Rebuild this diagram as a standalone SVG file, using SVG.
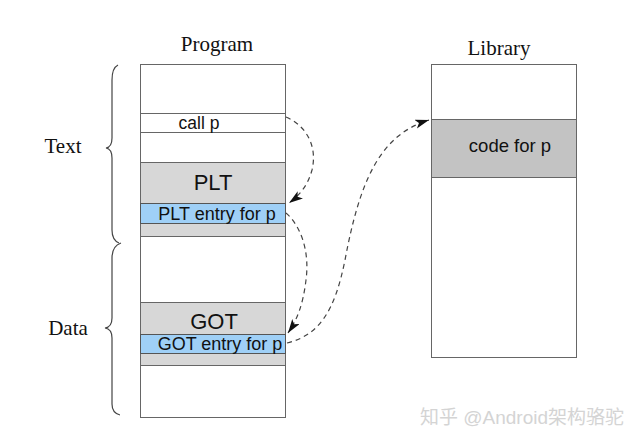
<svg xmlns="http://www.w3.org/2000/svg" width="640" height="442" viewBox="0 0 640 442">
<style>
.box{fill:#ffffff;stroke:#666;stroke-width:1}
.gray{fill:#d7d7d7;stroke:#666;stroke-width:1}
.blue{fill:#9fd0f7;stroke:#555;stroke-width:1}
.code{fill:#c3c3c3;stroke:#666;stroke-width:1}
.serif{font-family:"Liberation Serif","Times New Roman",serif;font-size:21px;fill:#111}
.sans{font-family:"Liberation Sans",Arial,sans-serif;fill:#111}
.brace{fill:none;stroke:#444;stroke-width:1.2}
.conn{fill:none;stroke:#444;stroke-width:1.2;stroke-dasharray:5,4;marker-end:url(#ah)}
</style>
<defs>
<marker id="ah" markerUnits="userSpaceOnUse" markerWidth="16" markerHeight="10" refX="14" refY="4.5" orient="auto">
<path d="M0,0 L14,4.5 L0,9 L3.5,4.5 z" fill="#111"/>
</marker>
</defs>
<rect width="640" height="442" fill="#fff"/>
<text class="serif" x="217" y="51" text-anchor="middle">Program</text>
<text class="serif" x="499" y="55" text-anchor="middle">Library</text>
<text class="serif" x="63" y="153" text-anchor="middle">Text</text>
<text class="serif" x="68" y="335" text-anchor="middle">Data</text>
<path class="brace" d="M118,65 Q112,68 112,80 L112,138 Q112,147 106,148 Q112,149 112,158 L112,230 Q112,240 119,243"/>
<path class="brace" d="M121,243 Q112,246 112,258 L112,318 Q112,327 105,328 Q112,329 112,338 L112,404 Q112,413 120,415"/>
<g id="program">
<rect class="box" x="140.5" y="64.5" width="145" height="353"/>
</g>
<g id="callp">
<rect class="box" x="140.5" y="113.5" width="145" height="19"/>
<text class="sans" x="199" y="129" font-size="17.5" text-anchor="middle">call p</text>
</g>
<g id="plt">
<rect class="gray" x="140.5" y="162.5" width="145" height="74"/>
<text class="sans" x="213" y="190" font-size="22" text-anchor="middle">PLT</text>
</g>
<g id="pltentry">
<rect class="blue" x="140.5" y="203.5" width="145" height="20"/>
<text class="sans" x="217" y="219.5" font-size="18" text-anchor="middle">PLT entry for p</text>
</g>
<g id="got">
<rect class="gray" x="140.5" y="302.5" width="145" height="63"/>
<text class="sans" x="214" y="329" font-size="22" text-anchor="middle">GOT</text>
</g>
<g id="gotentry">
<rect class="blue" x="140.5" y="334.5" width="145" height="19"/>
<text class="sans" x="220" y="349.5" font-size="18" text-anchor="middle">GOT entry for p</text>
</g>
<g id="library">
<rect class="box" x="431.5" y="64.5" width="145" height="293"/>
</g>
<g id="codep">
<rect class="code" x="431.5" y="119.5" width="145" height="58"/>
<text class="sans" x="510" y="152" font-size="18.5" text-anchor="middle">code for p</text>
</g>
<g id="connectors">
<path class="conn" d="M286,117 C305,125 318,145 312,170 C308,185 300,195 289,203"/>
<path class="conn" d="M286,213 C300,225 310,250 306,280 C303,305 297,320 288,333"/>
<path class="conn" d="M287,343 C320,335 335,310 345,260 C360,180 380,135 429,120"/>
</g>
<text x="522" y="424" text-anchor="middle" font-family="'Liberation Sans','Noto Sans CJK SC',sans-serif" font-size="19" fill="#d4d4d4">知乎 @Android架构骆驼</text>
</svg>
